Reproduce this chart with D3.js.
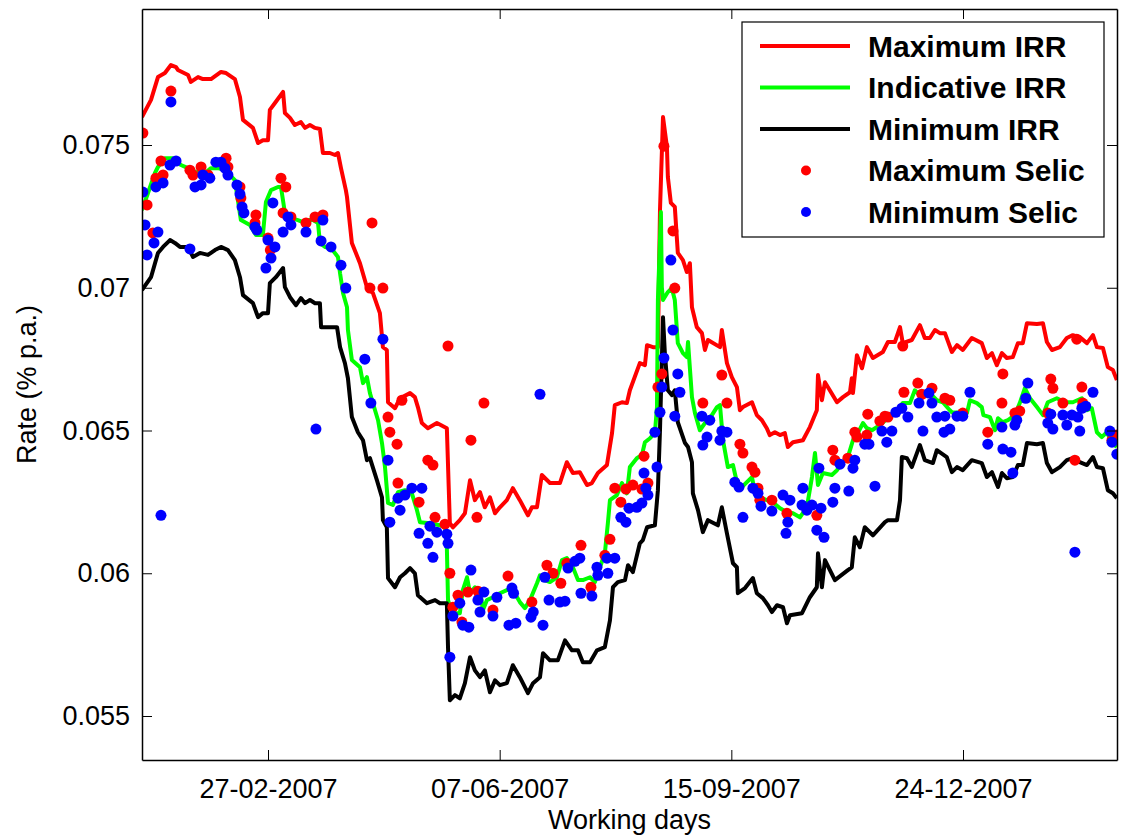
<!DOCTYPE html>
<html lang="en">
<head>
  <meta charset="UTF-8">
  <title>IRR and Selic rates</title>
  <script src="https://d3js.org/d3.v7.min.js"></script>
  <style>
    body { margin: 0; background: #fff; }
    svg text { font-family: "Liberation Sans", Arial, sans-serif; fill: #000; }
    .axis text { font-size: 27px; }
    .axis-title { font-size: 27px; }
    .legend-label { font-size: 30px; font-weight: bold; }
  </style>
</head>
<body>
  <svg id="chart"></svg>
  <script>
    // x values are day numbers counted from 01-01-2007, y values are rates
    const maxIrr = [[2.6,.07598],[6.5,.07658],[9.5,.07738],[12.5,.07752],[15.1,.07780],[17.3,.07773],[18.1,.07763],[22.5,.07745],[23.7,.07721],[26.8,.07738],[28.9,.07731],[32.4,.07731],[36.7,.07756],[38.9,.07752],[42.7,.07731],[44.9,.07668],[46.2,.07588],[50.5,.07560],[52.7,.07507],[54.8,.07517],[57.0,.07517],[57.8,.07623],[60.0,.07647],[63.5,.07686],[64.3,.07612],[66.5,.07595],[68.6,.07570],[71.2,.07580],[73.0,.07560],[75.1,.07570],[77.3,.07560],[79.4,.07556],[80.7,.07472],[83.7,.07472],[85.9,.07465],[87.2,.07472],[88.5,.07419],[90.6,.07342],[91.1,.07318],[93.2,.07157],[96.7,.07086],[99.7,.07002],[102.3,.06981],[105.3,.06911],[106.6,.06792],[108.3,.06782],[108.8,.06599],[111.8,.06578],[114.0,.06613],[118.3,.06631],[120.4,.06617],[121.7,.06582],[123.4,.06526],[126.0,.06508],[129.9,.06526],[134.2,.06508],[135.5,.06175],[136.8,.06161],[139.8,.06186],[142.0,.06210],[144.2,.06326],[146.3,.06256],[148.5,.06284],[150.6,.06231],[152.8,.06266],[155.0,.06210],[157.1,.06231],[160.1,.06256],[162.7,.06298],[165.7,.06256],[169.2,.06203],[170.9,.06231],[173.1,.06231],[175.2,.06344],[178.7,.06316],[183.0,.06316],[186.0,.06389],[188.6,.06351],[191.6,.06354],[194.7,.06309],[196.8,.06316],[199.4,.06351],[203.3,.06379],[205.5,.06491],[206.7,.06589],[209.8,.06599],[211.9,.06596],[213.2,.06641],[217.5,.06736],[219.7,.06729],[220.6,.06799],[223.2,.06792],[225.3,.06792],[226.2,.07272],[227.5,.07598],[229.2,.07493],[229.6,.07388],[230.9,.07297],[232.6,.07283],[233.9,.07122],[236.1,.07097],[237.8,.07055],[239.1,.07086],[240.0,.06932],[242.1,.06862],[244.3,.06841],[245.6,.06782],[246.9,.06817],[252.1,.06792],[252.9,.06852],[255.1,.06736],[257.2,.06687],[259.4,.06652],[260.7,.06571],[262.0,.06582],[265.9,.06599],[268.0,.06554],[270.2,.06536],[272.3,.06508],[273.6,.06484],[275.8,.06494],[278.0,.06484],[280.1,.06491],[281.4,.06442],[283.6,.06459],[287.9,.06466],[290.9,.06512],[293.9,.06571],[294.4,.06694],[296.1,.06606],[297.4,.06669],[299.5,.06641],[302.6,.06599],[305.2,.06617],[308.2,.06634],[309.0,.06683],[309.5,.06631],[311.2,.06764],[313.4,.06718],[315.5,.06792],[318.1,.06754],[322.4,.06775],[324.6,.06810],[327.6,.06810],[329.8,.06862],[331.0,.06806],[334.9,.06817],[338.4,.06869],[340.5,.06824],[342.7,.06824],[344.9,.06852],[347.0,.06841],[349.2,.06841],[352.2,.06775],[354.4,.06799],[356.9,.06782],[360.8,.06824],[365.1,.06806],[367.3,.06754],[369.5,.06771],[371.6,.06729],[373.8,.06771],[375.9,.06754],[378.5,.06757],[380.7,.06806],[382.8,.06806],[384.6,.06876],[388.9,.06873],[391.5,.06876],[393.2,.06810],[395.4,.06782],[398.8,.06792],[401.8,.06824],[404.4,.06834],[407.4,.06827],[410.5,.06806],[413.1,.06834],[414.8,.06792],[417.4,.06789],[419.5,.06722],[421.7,.06712],[423.4,.06677]];

    const indIrr = [[2.6,.07272],[5.2,.07332],[8.2,.07402],[9.5,.07423],[12.5,.07454],[16.0,.07454],[19.4,.07430],[22.5,.07419],[25.9,.07405],[29.8,.07402],[32.4,.07419],[35.4,.07419],[38.4,.07412],[42.7,.07377],[44.0,.07307],[45.3,.07237],[49.2,.07220],[51.8,.07185],[54.8,.07185],[56.1,.07300],[58.3,.07342],[61.3,.07353],[62.6,.07353],[64.3,.07262],[66.9,.07244],[69.9,.07237],[72.1,.07230],[73.4,.07237],[76.4,.07237],[78.6,.07227],[79.4,.07157],[81.6,.07143],[84.2,.07139],[87.2,.07108],[88.1,.07051],[89.4,.06981],[91.1,.06932],[91.5,.06852],[93.2,.06747],[96.7,.06722],[98.0,.06666],[99.7,.06687],[101.0,.06631],[103.2,.06571],[104.5,.06536],[106.2,.06456],[107.5,.06372],[108.8,.06246],[110.9,.06239],[113.1,.06284],[116.1,.06291],[119.1,.06280],[121.3,.06221],[122.6,.06179],[126.9,.06175],[131.2,.06168],[133.4,.06161],[134.2,.06091],[134.7,.05906],[136.4,.05860],[139.8,.05860],[141.1,.05941],[142.9,.05986],[144.2,.05930],[146.3,.05951],[148.5,.05941],[149.8,.05871],[151.5,.05906],[154.1,.05916],[157.1,.05930],[160.1,.05941],[162.7,.05941],[165.7,.05899],[167.9,.05878],[170.1,.05906],[173.1,.05965],[174.4,.05993],[176.5,.05976],[178.7,.05969],[181.7,.05986],[183.9,.06046],[186.0,.06053],[188.6,.06021],[190.8,.05976],[192.9,.05976],[196.0,.05986],[198.1,.05969],[200.3,.06021],[202.4,.06070],[203.7,.06175],[204.6,.06256],[207.6,.06274],[209.8,.06316],[211.9,.06280],[213.2,.06372],[216.2,.06403],[218.4,.06414],[219.7,.06459],[221.9,.06473],[224.0,.06491],[224.9,.06582],[225.3,.06957],[226.6,.07265],[227.0,.07002],[227.5,.06957],[229.6,.06985],[231.3,.06999],[232.6,.06957],[233.9,.06806],[236.1,.06771],[237.8,.06757],[238.3,.06810],[240.0,.06617],[241.3,.06561],[243.4,.06501],[246.5,.06536],[248.6,.06554],[250.8,.06582],[252.1,.06589],[253.4,.06466],[255.5,.06372],[257.7,.06379],[259.4,.06319],[261.6,.06302],[263.7,.06319],[265.9,.06337],[267.2,.06284],[269.3,.06266],[272.3,.06256],[274.9,.06249],[278.0,.06228],[281.0,.06214],[283.6,.06210],[286.6,.06196],[289.6,.06231],[291.8,.06337],[293.1,.06421],[294.4,.06309],[296.5,.06351],[300.4,.06344],[302.6,.06361],[304.7,.06386],[307.3,.06407],[309.5,.06466],[311.6,.06491],[313.8,.06526],[315.5,.06508],[317.7,.06501],[321.1,.06519],[324.6,.06543],[328.5,.06571],[331.0,.06596],[334.1,.06596],[336.2,.06641],[339.2,.06617],[342.7,.06631],[345.7,.06606],[348.3,.06599],[351.3,.06571],[352.2,.06564],[358.7,.06561],[360.0,.06606],[363.0,.06596],[365.1,.06582],[365.8,.06554],[368.6,.06547],[370.8,.06501],[372.1,.06543],[374.2,.06529],[376.4,.06536],[379.4,.06554],[381.5,.06596],[383.7,.06648],[385.9,.06613],[388.9,.06582],[391.5,.06554],[393.6,.06599],[397.5,.06613],[401.0,.06599],[404.4,.06599],[408.3,.06613],[410.5,.06571],[412.6,.06578],[414.8,.06494],[416.9,.06477],[419.1,.06494],[421.3,.06456],[423.4,.06442]];

    const minIrr = [[2.6,.06992],[6.5,.07037],[9.5,.07122],[11.7,.07143],[14.7,.07167],[16.8,.07157],[19.0,.07143],[22.5,.07143],[24.6,.07108],[27.6,.07122],[31.1,.07115],[34.1,.07132],[36.7,.07143],[39.7,.07132],[42.7,.07097],[44.9,.07037],[46.2,.06974],[50.5,.06946],[52.7,.06897],[54.8,.06911],[57.0,.06911],[57.8,.07016],[60.4,.07037],[63.5,.07069],[64.3,.07002],[66.5,.06967],[69.1,.06939],[71.2,.06964],[73.0,.06946],[75.1,.06957],[77.3,.06946],[79.4,.06946],[79.9,.06862],[84.2,.06862],[86.8,.06862],[88.1,.06792],[90.2,.06736],[91.5,.06683],[93.2,.06547],[95.8,.06494],[98.0,.06466],[99.7,.06396],[101.0,.06403],[104.0,.06326],[106.2,.06266],[106.6,.06186],[108.3,.06161],[108.8,.05983],[111.8,.05951],[114.0,.05986],[116.1,.06000],[118.3,.06018],[120.4,.06000],[121.7,.05923],[125.6,.05895],[129.1,.05906],[131.2,.05895],[134.2,.05895],[134.7,.05741],[135.5,.05555],[137.7,.05573],[139.8,.05562],[142.0,.05615],[144.2,.05706],[146.3,.05660],[148.5,.05636],[150.6,.05660],[152.8,.05583],[155.0,.05625],[157.1,.05608],[160.1,.05615],[162.7,.05678],[165.7,.05636],[169.2,.05580],[171.4,.05615],[174.4,.05636],[175.7,.05720],[178.7,.05695],[182.1,.05695],[185.2,.05765],[188.2,.05730],[190.8,.05730],[192.9,.05688],[196.0,.05688],[199.0,.05730],[202.4,.05741],[204.6,.05835],[205.9,.05951],[208.0,.05969],[211.1,.05976],[212.4,.06028],[214.5,.06004],[217.5,.06105],[218.8,.06116],[220.6,.06161],[224.0,.06168],[225.3,.06291],[226.2,.06501],[227.5,.06897],[228.3,.06771],[229.6,.06641],[231.3,.06624],[232.6,.06641],[233.9,.06529],[237.0,.06456],[238.3,.06442],[240.0,.06389],[240.4,.06280],[242.6,.06221],[244.7,.06144],[246.9,.06186],[251.2,.06168],[252.9,.06231],[255.1,.06140],[257.7,.06035],[259.4,.06021],[259.8,.05930],[262.9,.05948],[266.3,.05983],[268.0,.05930],[270.6,.05913],[272.8,.05888],[274.5,.05864],[276.7,.05888],[279.3,.05881],[281.0,.05825],[282.3,.05853],[287.5,.05860],[290.9,.05916],[293.9,.05951],[294.4,.06070],[296.1,.05951],[297.4,.06046],[301.7,.05976],[307.3,.06011],[309.0,.06021],[310.3,.06126],[312.5,.06091],[314.6,.06161],[318.1,.06133],[323.3,.06179],[324.6,.06186],[328.5,.06186],[329.8,.06256],[330.6,.06407],[332.8,.06403],[334.9,.06372],[337.1,.06421],[338.4,.06449],[340.5,.06396],[344.0,.06386],[345.7,.06431],[350.0,.06407],[352.2,.06354],[354.4,.06372],[356.9,.06361],[360.8,.06396],[365.1,.06386],[367.3,.06337],[369.5,.06354],[372.1,.06302],[373.8,.06351],[375.9,.06333],[378.5,.06337],[380.7,.06379],[382.8,.06379],[384.6,.06456],[388.9,.06452],[391.5,.06456],[393.2,.06386],[395.4,.06354],[398.8,.06372],[401.8,.06396],[404.4,.06403],[407.4,.06389],[410.5,.06379],[413.1,.06407],[414.8,.06372],[417.4,.06368],[419.5,.06291],[421.7,.06280],[423.4,.06263]];

    const maxSelic = [[3.0,.07542],[4.8,.07290],[7.3,.07192],[8.6,.07384],[10.8,.07444],[11.7,.07395],[15.1,.07689],[23.3,.07412],[24.6,.07395],[28.1,.07423],[31.1,.07395],[38.9,.07454],[39.7,.07423],[44.9,.07353],[45.3,.07314],[51.4,.07227],[51.8,.07255],[57.0,.07174],[58.0,.07132],[62.6,.07384],[63.5,.07262],[64.7,.07353],[66.9,.07248],[73.4,.07227],[77.3,.07248],[80.7,.07255],[101.0,.06999],[101.9,.07227],[106.6,.06999],[108.8,.06547],[109.6,.06494],[112.7,.06452],[113.1,.06316],[114.8,.06606],[122.2,.06249],[126.0,.06396],[128.2,.06379],[129.1,.06196],[133.4,.06172],[134.7,.06796],[135.5,.06000],[136.8,.05881],[139.0,.05923],[140.7,.05829],[143.3,.05934],[144.6,.06466],[147.2,.06196],[147.6,.05937],[150.2,.06596],[154.1,.05871],[160.6,.05990],[170.9,.05899],[177.4,.06028],[180.0,.06000],[183.4,.05965],[186.0,.06035],[192.1,.06098],[196.4,.05951],[202.4,.06063],[204.6,.06119],[206.7,.06298],[209.3,.06249],[211.5,.06295],[214.5,.06309],[218.4,.06295],[219.3,.06410],[221.0,.06316],[225.3,.06652],[227.0,.06698],[227.9,.07496],[231.8,.07199],[232.6,.06999],[244.7,.06596],[252.9,.06694],[255.1,.06596],[260.7,.06452],[262.0,.06421],[265.9,.06372],[267.2,.06354],[268.5,.06298],[269.3,.06256],[274.5,.06256],[281.0,.06210],[293.9,.06203],[300.8,.06431],[301.7,.06396],[307.3,.06403],[310.3,.06494],[311.2,.06477],[315.5,.06484],[315.9,.06557],[321.1,.06533],[323.3,.06550],[324.6,.06547],[331.0,.06796],[331.5,.06634],[337.5,.06666],[339.2,.06627],[343.6,.06648],[349.2,.06613],[351.3,.06606],[356.9,.06561],[367.7,.06494],[373.8,.06596],[374.2,.06698],[379.4,.06561],[381.5,.06568],[393.6,.06561],[394.9,.06680],[395.8,.06648],[400.1,.06596],[405.3,.06396],[406.1,.06820],[408.3,.06652],[408.7,.06596],[421.3,.06466],[423.4,.06484]];

    const minSelic = [[3.0,.07335],[3.9,.07220],[4.8,.07115],[7.8,.07157],[8.6,.07353],[9.5,.07195],[10.8,.06203],[11.7,.07367],[14.7,.07430],[15.1,.07651],[17.3,.07444],[23.3,.07136],[25.5,.07353],[28.1,.07360],[28.9,.07395],[31.9,.07384],[34.5,.07440],[36.7,.07440],[38.4,.07419],[39.7,.07395],[43.6,.07360],[44.9,.07328],[45.8,.07283],[46.6,.07262],[51.4,.07213],[52.2,.07202],[56.1,.07069],[57.0,.07167],[58.3,.07104],[59.1,.07297],[60.0,.07143],[63.5,.07195],[65.6,.07248],[66.9,.07220],[73.4,.07195],[77.7,.06505],[79.9,.07164],[80.7,.07237],[84.2,.07143],[88.5,.07079],[90.6,.06999],[98.8,.06750],[101.4,.06596],[106.6,.06820],[108.8,.06396],[109.6,.06179],[113.1,.06263],[114.0,.06221],[116.1,.06274],[119.1,.06298],[122.2,.06140],[123.4,.06298],[126.0,.06105],[126.9,.06165],[128.2,.06056],[129.9,.06144],[134.2,.06137],[134.7,.06105],[135.5,.05706],[136.8,.05850],[139.8,.05895],[141.1,.05818],[143.7,.05811],[144.6,.06011],[147.6,.05906],[148.5,.05864],[150.2,.05934],[154.1,.05850],[155.8,.05916],[161.0,.05818],[162.3,.05948],[163.0,.05930],[164.0,.05825],[170.5,.05846],[171.5,.05864],[174.4,.06627],[175.7,.05818],[176.5,.05986],[178.3,.05906],[183.0,.05899],[185.2,.05902],[186.5,.06018],[189.5,.06042],[191.6,.06053],[192.1,.05930],[196.8,.05920],[199.0,.06021],[199.4,.05993],[203.3,.06053],[203.7,.06000],[206.7,.06053],[209.3,.06196],[211.5,.06179],[212.8,.06228],[216.2,.06231],[218.4,.06246],[219.3,.06351],[220.1,.06298],[221.0,.06274],[224.0,.06494],[224.9,.06372],[226.2,.06564],[227.0,.06652],[227.9,.06754],[230.9,.07097],[231.8,.06852],[232.6,.06550],[233.9,.06698],[234.8,.06634],[244.3,.06550],[244.7,.06449],[246.5,.06477],[247.7,.06536],[252.1,.06466],[252.9,.06498],[255.1,.06494],[258.5,.06319],[260.3,.06302],[262.0,.06196],[266.3,.06298],[268.5,.06280],[269.8,.06235],[274.5,.06218],[279.3,.06274],[280.6,.06140],[281.4,.06179],[282.3,.06256],[287.5,.06239],[287.9,.06298],[289.6,.06221],[291.8,.06239],[293.9,.06151],[294.8,.06368],[295.7,.06228],[297.0,.06126],[300.8,.06249],[301.7,.06298],[303.9,.06382],[307.7,.06288],[309.5,.06368],[310.3,.06396],[314.6,.06452],[316.4,.06452],[319.0,.06305],[322.0,.06498],[324.1,.06459],[326.3,.06498],[328.0,.06564],[330.6,.06578],[333.2,.06547],[338.0,.06596],[339.7,.06498],[342.3,.06631],[343.6,.06596],[345.7,.06547],[348.8,.06494],[349.2,.06550],[351.3,.06505],[354.4,.06550],[356.9,.06550],[360.0,.06634],[367.7,.06452],[373.8,.06512],[374.2,.06435],[377.7,.06424],[378.5,.06351],[379.4,.06519],[380.2,.06536],[384.1,.06613],[385.0,.06666],[393.6,.06526],[394.9,.06557],[395.8,.06505],[400.1,.06554],[401.8,.06519],[404.0,.06554],[405.3,.06074],[406.6,.06547],[407.4,.06498],[408.3,.06578],[410.0,.06585],[413.1,.06634],[420.4,.06498],[421.3,.06459],[423.4,.06417]];

    const xTicks = [57, 157, 257, 357];          // 27-02, 07-06, 15-09, 24-12-2007
    const yTicks = [0.055, 0.06, 0.065, 0.07, 0.075];
    const lineSeries = [
      { name: "Maximum IRR", data: maxIrr, color: "#ff0000" },
      { name: "Indicative IRR", data: indIrr, color: "#00ff00" },
      { name: "Minimum IRR", data: minIrr, color: "#000000" }
    ];
    const dotSeries = [
      { name: "Maximum Selic", data: maxSelic, color: "#ff0000" },
      { name: "Minimum Selic", data: minSelic, color: "#0000ff" }
    ];

    const width = 1122, height = 837;
    const plot = { left: 142, right: 1117, top: 9, bottom: 760 };

    const svg = d3.select("#chart").attr("width", width).attr("height", height);
    svg.append("rect").attr("width", width).attr("height", height).attr("fill", "#fff");

    const x = d3.scaleLinear().domain([2.61, 423.47]).range([plot.left, plot.right]);
    const y = d3.scaleLinear().domain([0.053459, 0.079764]).range([plot.bottom, plot.top]);

    const dayFormat = d => d3.timeFormat("%d-%m-%Y")(d3.timeDay.offset(new Date(2007, 0, 1), d));
    const rateFormat = d => String(+d.toFixed(3));

    svg.append("defs").append("clipPath").attr("id", "clip")
      .append("rect")
      .attr("x", plot.left).attr("y", plot.top)
      .attr("width", plot.right - plot.left).attr("height", plot.bottom - plot.top);

    const line = d3.line().x(d => x(d[0])).y(d => y(d[1]));
    const marks = svg.append("g").attr("clip-path", "url(#clip)");

    lineSeries.forEach(s => {
      marks.append("path")
        .datum(s.data)
        .attr("fill", "none")
        .attr("stroke", s.color)
        .attr("stroke-width", 4)
        .attr("stroke-linejoin", "round")
        .attr("d", line);
    });

    dotSeries.forEach(s => {
      marks.append("g").selectAll("circle")
        .data(s.data)
        .enter().append("circle")
        .attr("cx", d => x(d[0]))
        .attr("cy", d => y(d[1]))
        .attr("r", 5.5)
        .attr("fill", s.color);
    });

    // axes box with inward ticks on all four sides
    const styleAxis = g => {
      g.attr("font-family", null).attr("font-size", null);
      g.select(".domain").attr("stroke-width", 1.5);
      g.selectAll(".tick line").attr("stroke-width", 1);
    };

    svg.append("g").attr("class", "axis")
      .attr("transform", `translate(0,${plot.bottom})`)
      .call(d3.axisBottom(x).tickValues(xTicks).tickFormat(dayFormat)
        .tickSizeInner(-10).tickSizeOuter(0).tickPadding(19))
      .call(styleAxis);

    svg.append("g").attr("class", "axis")
      .attr("transform", `translate(0,${plot.top})`)
      .call(d3.axisTop(x).tickValues(xTicks).tickFormat(() => "")
        .tickSizeInner(-10).tickSizeOuter(0))
      .call(styleAxis);

    svg.append("g").attr("class", "axis")
      .attr("transform", `translate(${plot.left},0)`)
      .call(d3.axisLeft(y).tickValues(yTicks).tickFormat(rateFormat)
        .tickSizeInner(-10).tickSizeOuter(0).tickPadding(12))
      .call(styleAxis);

    svg.append("g").attr("class", "axis")
      .attr("transform", `translate(${plot.right},0)`)
      .call(d3.axisRight(y).tickValues(yTicks).tickFormat(() => "")
        .tickSizeInner(-10).tickSizeOuter(0))
      .call(styleAxis);

    svg.append("text")
      .attr("class", "axis-title")
      .attr("x", (plot.left + plot.right) / 2)
      .attr("y", 829)
      .attr("text-anchor", "middle")
      .text("Working days");

    svg.append("text")
      .attr("class", "axis-title")
      .attr("transform", `translate(36,${(plot.top + plot.bottom) / 2}) rotate(-90)`)
      .attr("text-anchor", "middle")
      .text("Rate (% p.a.)");

    // legend
    const legend = svg.append("g").attr("transform", "translate(742,22)");
    legend.append("rect")
      .attr("width", 362).attr("height", 215)
      .attr("fill", "#fff").attr("stroke", "#000").attr("stroke-width", 1.2);

    const legendItems = lineSeries.map(s => ({ ...s, type: "line" }))
      .concat(dotSeries.map(s => ({ ...s, type: "dot" })));

    legendItems.forEach((item, i) => {
      const cy = 24 + i * 41.5;
      if (item.type === "line") {
        legend.append("line")
          .attr("x1", 18).attr("x2", 108)
          .attr("y1", cy).attr("y2", cy)
          .attr("stroke", item.color).attr("stroke-width", 4);
      } else {
        legend.append("circle")
          .attr("cx", 64).attr("cy", cy).attr("r", 5)
          .attr("fill", item.color);
      }
      legend.append("text")
        .attr("class", "legend-label")
        .attr("x", 126)
        .attr("y", cy)
        .attr("dy", "0.36em")
        .text(item.name);
    });
  </script>
</body>
</html>
